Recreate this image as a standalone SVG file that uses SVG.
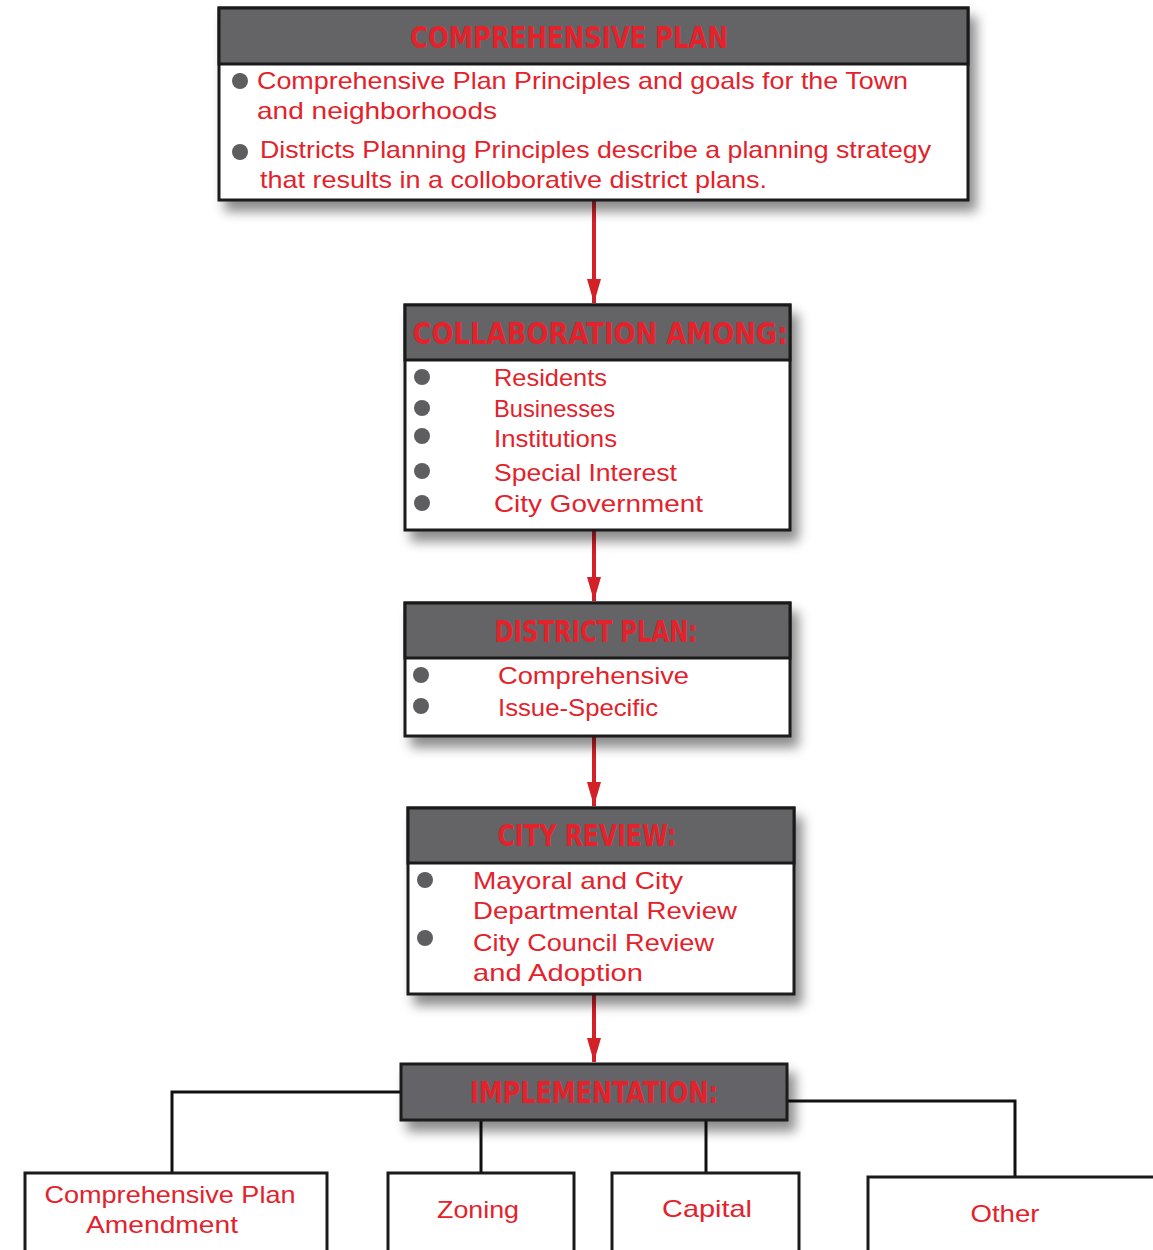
<svg xmlns="http://www.w3.org/2000/svg" width="1153" height="1250" viewBox="0 0 1153 1250">
<defs>
<filter id="sh" x="-10%" y="-20%" width="125%" height="160%">
<feDropShadow dx="7" dy="10" stdDeviation="6" flood-color="#000" flood-opacity="0.45"/>
</filter>
<marker id="ah" markerWidth="24" markerHeight="14" refX="24" refY="7" orient="auto" markerUnits="userSpaceOnUse" viewBox="0 0 24 14">
<path d="M0,0 L24,7 L0,14 Z" fill="#d42027"/>
</marker>
</defs>
<style>
.box{fill:#fff;stroke:#1a1a1a;stroke-width:3}
.hdr{fill:#646467;stroke:#1a1a1a;stroke-width:3}
.ht{font-family:"Liberation Sans Narrow","DejaVu Sans Condensed","Liberation Sans",sans-serif;font-weight:bold;fill:#e3222b;text-anchor:middle}
.t{font-family:"Liberation Sans","DejaVu Sans",sans-serif;fill:#e3222b;font-size:24px}
.bt{font-family:"Liberation Sans","DejaVu Sans",sans-serif;fill:#e3222b;font-size:24px;text-anchor:middle}
.b{fill:#5e5e60}
.arr{stroke:#d42027;stroke-width:4;fill:none}
.ln{stroke:#111;stroke-width:3;fill:none}
</style>

<g id="connectors">
<line class="arr" x1="594" y1="201" x2="594" y2="303" marker-end="url(#ah)"/>
<line class="arr" x1="594" y1="531" x2="594" y2="601" marker-end="url(#ah)"/>
<line class="arr" x1="594" y1="737" x2="594" y2="806" marker-end="url(#ah)"/>
<line class="arr" x1="594" y1="995" x2="594" y2="1062" marker-end="url(#ah)"/>
<polyline class="ln" points="401,1092 172,1092 172,1172"/>
<polyline class="ln" points="787,1101 1015,1101 1015,1176"/>
<line class="ln" x1="481" y1="1120" x2="481" y2="1172"/>
<line class="ln" x1="706" y1="1120" x2="706" y2="1172"/>
</g>

<g id="comprehensive-plan">
<rect class="box" x="219" y="8" width="749" height="192" filter="url(#sh)"/>
<rect class="hdr" x="219" y="8" width="749" height="56"/>
<text class="ht" x="569" y="48" font-size="30" textLength="318" lengthAdjust="spacingAndGlyphs">COMPREHENSIVE PLAN</text>
<circle class="b" cx="240" cy="81" r="8"/>
<circle class="b" cx="240" cy="152" r="8"/>
<text class="t" x="257" y="89" textLength="651" lengthAdjust="spacingAndGlyphs">Comprehensive Plan Principles and goals for the Town</text>
<text class="t" x="257" y="119" textLength="240" lengthAdjust="spacingAndGlyphs">and neighborhoods</text>
<text class="t" x="260" y="158" textLength="671" lengthAdjust="spacingAndGlyphs">Districts Planning Principles describe a planning strategy</text>
<text class="t" x="260" y="188" textLength="507" lengthAdjust="spacingAndGlyphs">that results in a colloborative district plans.</text>
</g>

<g id="collaboration">
<rect class="box" x="405" y="305" width="385" height="225" filter="url(#sh)"/>
<rect class="hdr" x="405" y="305" width="385" height="55"/>
<text class="ht" x="600" y="344" font-size="30" textLength="375" lengthAdjust="spacingAndGlyphs" font-family="Liberation Sans">COLLABORATION AMONG:</text>
<circle class="b" cx="422" cy="377" r="8"/>
<circle class="b" cx="422" cy="408" r="8"/>
<circle class="b" cx="422" cy="436" r="8"/>
<circle class="b" cx="422" cy="471" r="8"/>
<circle class="b" cx="422" cy="503" r="8"/>
<text class="t" x="494" y="386" textLength="113" lengthAdjust="spacingAndGlyphs">Residents</text>
<text class="t" x="494" y="417" textLength="121" lengthAdjust="spacingAndGlyphs">Businesses</text>
<text class="t" x="494" y="447" textLength="123" lengthAdjust="spacingAndGlyphs">Institutions</text>
<text class="t" x="494" y="481" textLength="183" lengthAdjust="spacingAndGlyphs">Special Interest</text>
<text class="t" x="494" y="512" textLength="209" lengthAdjust="spacingAndGlyphs">City Government</text>
</g>

<g id="district-plan">
<rect class="box" x="405" y="603" width="385" height="133" filter="url(#sh)"/>
<rect class="hdr" x="405" y="603" width="385" height="55"/>
<text class="ht" x="596" y="642" font-size="30" textLength="203" lengthAdjust="spacingAndGlyphs">DISTRICT PLAN:</text>
<circle class="b" cx="421" cy="675" r="8"/>
<circle class="b" cx="421" cy="706" r="8"/>
<text class="t" x="498" y="684" textLength="191" lengthAdjust="spacingAndGlyphs">Comprehensive</text>
<text class="t" x="498" y="716" textLength="160" lengthAdjust="spacingAndGlyphs">Issue-Specific</text>
</g>

<g id="city-review">
<rect class="box" x="408" y="808" width="386" height="186" filter="url(#sh)"/>
<rect class="hdr" x="408" y="808" width="386" height="55"/>
<text class="ht" x="587" y="846" font-size="30" textLength="179" lengthAdjust="spacingAndGlyphs">CITY REVIEW:</text>
<circle class="b" cx="425" cy="880" r="8"/>
<circle class="b" cx="425" cy="938" r="8"/>
<text class="t" x="473" y="889" textLength="210" lengthAdjust="spacingAndGlyphs">Mayoral and City</text>
<text class="t" x="473" y="919" textLength="264" lengthAdjust="spacingAndGlyphs">Departmental Review</text>
<text class="t" x="473" y="951" textLength="241" lengthAdjust="spacingAndGlyphs">City Council Review</text>
<text class="t" x="473" y="981" textLength="170" lengthAdjust="spacingAndGlyphs">and Adoption</text>
</g>

<g id="implementation">
<rect class="hdr" x="401" y="1064" width="386" height="56" filter="url(#sh)"/>
<text class="ht" x="594" y="1103" font-size="30" textLength="248" lengthAdjust="spacingAndGlyphs">IMPLEMENTATION:</text>
</g>

<g id="comp-plan-amendment">
<rect class="box" x="25" y="1173" width="302" height="90"/>
<text class="bt" x="170" y="1203" textLength="251" lengthAdjust="spacingAndGlyphs">Comprehensive Plan</text>
<text class="bt" x="162" y="1233" textLength="152" lengthAdjust="spacingAndGlyphs">Amendment</text>
</g>
<g id="zoning">
<rect class="box" x="388" y="1173" width="186" height="90"/>
<text class="bt" x="478" y="1218" textLength="82" lengthAdjust="spacingAndGlyphs">Zoning</text>
</g>
<g id="capital">
<rect class="box" x="612" y="1173" width="187" height="90"/>
<text class="bt" x="707" y="1217" textLength="90" lengthAdjust="spacingAndGlyphs">Capital</text>
</g>
<g id="other">
<rect class="box" x="868" y="1177" width="300" height="90"/>
<text class="bt" x="1005" y="1222" textLength="69" lengthAdjust="spacingAndGlyphs">Other</text>
</g>
</svg>
